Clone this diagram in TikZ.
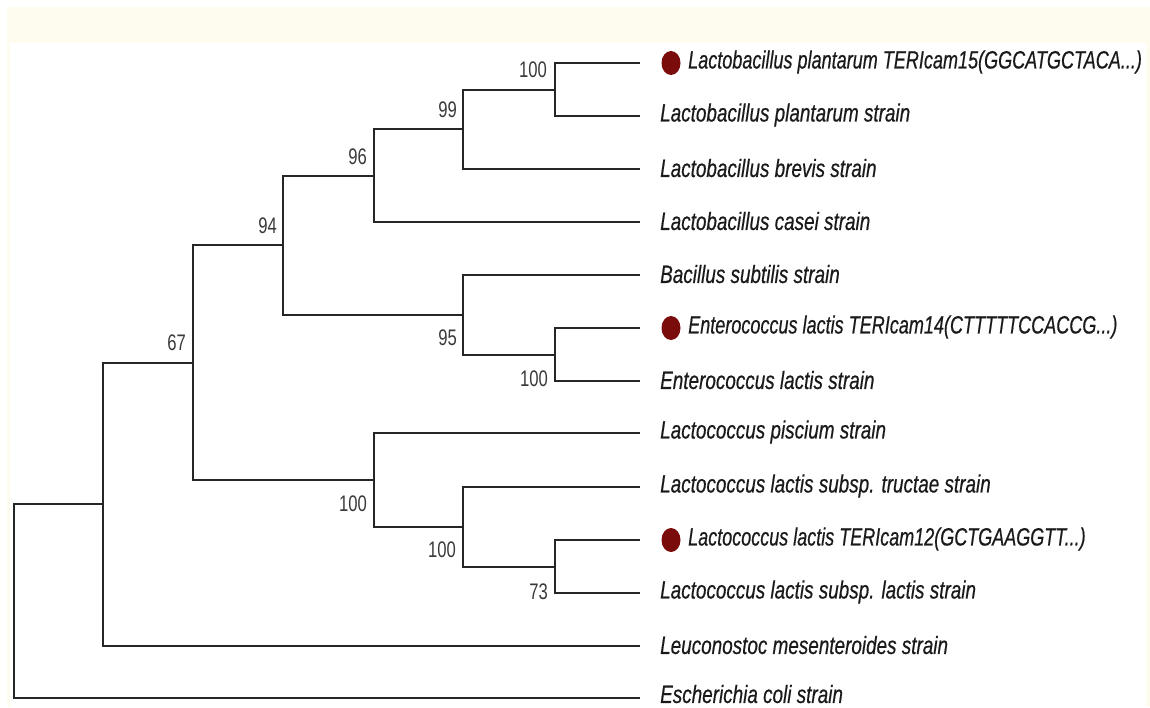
\documentclass[tikz,border=0pt]{standalone}
\usepackage{fontspec}
\setmainfont{Liberation Sans}
\newfontfamily\taxfont[FakeBold=0.6]{Liberation Sans}
\usepackage{graphicx}
\usetikzlibrary{calc,shapes.geometric}
\definecolor{cream}{HTML}{FEFCEE}
\definecolor{branchc}{HTML}{262626}
\definecolor{dotred}{HTML}{7B0C0C}
\definecolor{boottext}{HTML}{3A3A3A}
\definecolor{taxtext}{HTML}{1A1A1A}
\newcommand{\taxlbl}[2][0.756]{\scalebox{#1}[1]{#2}}
\newcommand{\bootlbl}[1]{\scalebox{0.74}[1]{#1}}
\begin{document}
\begin{tikzpicture}[x=1pt,y=-1pt,
  branch/.style={draw=branchc, line width=2pt, line join=miter},
  taxon/.style={anchor=west, inner sep=0pt, text=taxtext, font=\taxfont\fontsize{25}{28}\selectfont\itshape},
  boot/.style={anchor=east, inner sep=0pt, text=boottext, font=\fontsize{22.5}{26}\selectfont},
  hitdot/.style={ellipse, fill=dotred, draw=none, minimum width=19pt, minimum height=24pt, inner sep=0pt}]
\useasboundingbox (0,0) rectangle (1150,707);
\fill[white] (0,0) rectangle (1150,707);
\fill[cream] (7,7) rectangle (1150,707);
\fill[white] (10,43) rectangle (1146,707);
% leaves (branch tips)
\coordinate (l1) at (640,63);
\coordinate (l2) at (640,116);
\coordinate (l3) at (640,169);
\coordinate (l4) at (640,222);
\coordinate (l5) at (640,275);
\coordinate (l6) at (640,328);
\coordinate (l7) at (640,381);
\coordinate (l8) at (640,433);
\coordinate (l9) at (640,487);
\coordinate (l10) at (640,540);
\coordinate (l11) at (640,593);
\coordinate (l12) at (640,646);
\coordinate (l13) at (640,698);
% internal nodes
\coordinate (A) at (555,89.5);
\coordinate (B) at (463,129);
\coordinate (C) at (374,176);
\coordinate (E) at (555,354.5);
\coordinate (D) at (463,314.5);
\coordinate (F) at (283,245);
\coordinate (G) at (555,566.5);
\coordinate (H) at (463,526.5);
\coordinate (I) at (374,480);
\coordinate (J) at (193,362.5);
\coordinate (K) at (103,504);
\coordinate (R) at (14,601);
% branches
\draw[branch] (l1) -| (A) |- (l2);
\draw[branch] (A) -| (B) |- (l3);
\draw[branch] (B) -| (C) |- (l4);
\draw[branch] (l6) -| (E) |- (l7);
\draw[branch] (l5) -| (D) |- (E);
\draw[branch] (C) -| (F) |- (D);
\draw[branch] (l10) -| (G) |- (l11);
\draw[branch] (l9) -| (H) |- (G);
\draw[branch] (l8) -| (I) |- (H);
\draw[branch] (F) -| (J) |- (I);
\draw[branch] (J) -| (K) |- (l12);
\draw[branch] (K) -| (R) |- (l13);
% bootstrap values
\node[boot] (bA) at ($(A)+(-8,-19.5)$) {\bootlbl{100}};
\node[boot] (bB) at ($(B)+(-6,-19)$) {\bootlbl{99}};
\node[boot] (bC) at ($(C)+(-7,-19)$) {\bootlbl{96}};
\node[boot] (bF) at ($(F)+(-6,-19.5)$) {\bootlbl{94}};
\node[boot] (bJ) at ($(J)+(-7,-19.5)$) {\bootlbl{67}};
\node[boot] (bD) at ($(D)+(-6,23.5)$) {\bootlbl{95}};
\node[boot] (bE) at ($(E)+(-7,24)$) {\bootlbl{100}};
\node[boot] (bI) at ($(I)+(-7,23.5)$) {\bootlbl{100}};
\node[boot] (bH) at ($(H)+(-7,23)$) {\bootlbl{100}};
\node[boot] (bG) at ($(G)+(-7,25)$) {\bootlbl{73}};
% taxa
\node[hitdot] (d1) at (671,63) {};
\node[taxon] (t1) at (688,62) {\taxlbl[0.722]{Lactobacillus plantarum TERIcam15(GGCATGCTACA...)}};
\node[taxon] (t2) at (660,115) {\taxlbl{Lactobacillus plantarum strain}};
\node[taxon] (t3) at (660,168) {\taxlbl{Lactobacillus brevis strain}};
\node[taxon] (t4) at (660,221) {\taxlbl{Lactobacillus casei strain}};
\node[taxon] (t5) at (660,274) {\taxlbl{Bacillus subtilis strain}};
\node[hitdot] (d6) at (671,328) {};
\node[taxon] (t6) at (688,327) {\taxlbl[0.722]{Enterococcus lactis TERIcam14(CTTTTTCCACCG...)}};
\node[taxon] (t7) at (660,380) {\taxlbl{Enterococcus lactis strain}};
\node[taxon] (t8) at (660,432) {\taxlbl{Lactococcus piscium strain}};
\node[taxon] (t9) at (660,486) {\taxlbl{Lactococcus lactis subsp. tructae strain}};
\node[hitdot] (d10) at (671,540) {};
\node[taxon] (t10) at (688,539) {\taxlbl[0.72]{Lactococcus lactis TERIcam12(GCTGAAGGTT...)}};
\node[taxon] (t11) at (660,592) {\taxlbl{Lactococcus lactis subsp. lactis strain}};
\node[taxon] (t12) at (660,645) {\taxlbl{Leuconostoc mesenteroides strain}};
\node[taxon] (t13) at (660,694) {\taxlbl{Escherichia coli strain}};
\end{tikzpicture}
\end{document}
